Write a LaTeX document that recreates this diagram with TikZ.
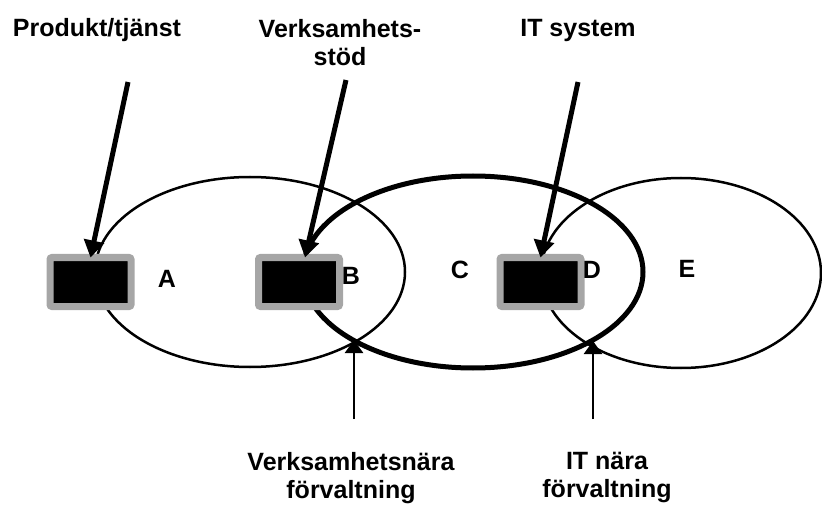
\documentclass[tikz,border=0pt]{standalone}
\usepackage{fontspec}
\setmainfont{Liberation Sans}
\usetikzlibrary{arrows.meta}
\definecolor{boxgray}{RGB}{166,166,166}

\begin{document}
\begin{tikzpicture}[
  x=1pt, y=-1pt,
  font=\fontsize{25}{28}\selectfont\bfseries,
  unit/.style={draw=boxgray, line width=7pt, fill=black, rounded corners=2pt, minimum width=81pt, minimum height=49pt, inner sep=0pt, outer sep=0pt},
  lbl/.style={inner sep=0pt},
  head/.style={inner sep=0pt, align=center},
  ring/.style={line width=2.5pt},
  thickring/.style={line width=5pt},
  pointer/.style={line width=5pt, -{Triangle[length=17pt, width=20pt]}},
  marker/.style={line width=2.5pt, -{Triangle[length=13pt, width=18pt]}}
]
\useasboundingbox (0,0) rectangle (822,505);

% areas
\draw[ring] (250,272) ellipse [x radius=155, y radius=95];
\draw[ring] (681,273) ellipse [x radius=140, y radius=95];
\draw[thickring] (473,272) ellipse [x radius=170, y radius=96];

\node[unit] (boxA) at (90.5,282) {};
\node[unit] (boxB) at (299,282) {};
\node[unit] (boxD) at (540.5,282) {};

\node[lbl] (areaA) at (167,279) {A};
\node[lbl] (areaB) at (351,276) {B};
\node[lbl] (areaC) at (460,270) {C};
\node[lbl] (areaD) at (592,270) {D};
\node[lbl] (areaE) at (687,269) {E};

% captions
\node[head, anchor=base] (prod) at (97,37) {Produkt/tjänst};
\node[head, anchor=north] (vstod) at (340,19) {Verksamhets-\\stöd};
\node[head, anchor=base] (itsys) at (578,37) {IT system};
\node[head, anchor=north] (vnara) at (351,452) {Verksamhetsnära\\förvaltning};
\node[head, anchor=north] (itnara) at (607,452) {IT nära\\förvaltning};

\coordinate (srcA) at (128,82);
\coordinate (srcB) at (346,80);
\coordinate (srcD) at (578,82);
\draw[pointer] (srcA) -- (boxA.north);
\draw[pointer] (srcB) -- ([xshift=6pt]boxB.north);
\draw[pointer] (srcD) -- (boxD.north);

\coordinate (footB) at (354,419);
\coordinate (meetB) at (354,340);
\coordinate (footD) at (593,419);
\coordinate (meetD) at (593,341);
\draw[marker] (footB) -- (meetB);
\draw[marker] (footD) -- (meetD);
\end{tikzpicture}
\end{document}
